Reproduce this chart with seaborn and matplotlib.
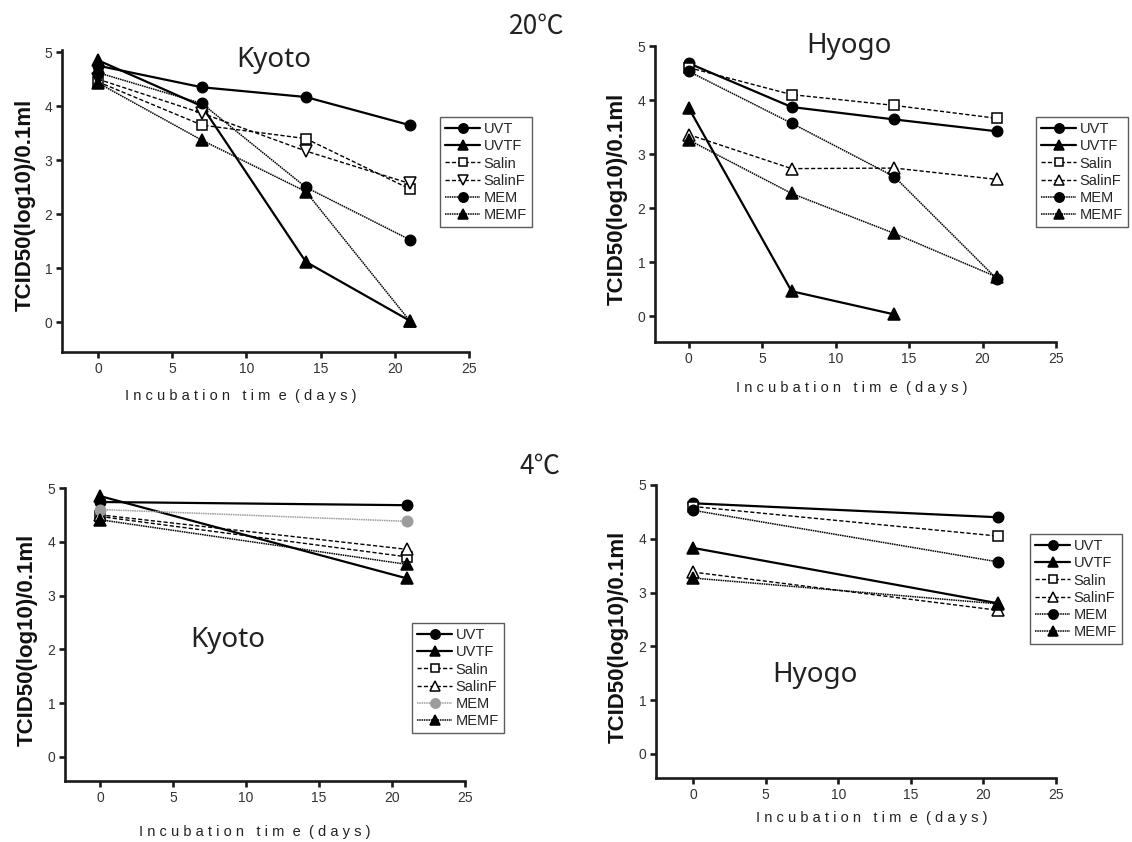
import matplotlib
matplotlib.use("Agg")
import matplotlib.pyplot as plt
import seaborn as sns
import pandas as pd

sns.set_style("ticks")
plt.rcParams["font.family"] = ["Liberation Sans", "DejaVu Sans"]

series = ["UVT", "UVTF", "Salin", "SalinF", "MEM", "MEMF"]

# ---- data: Kyoto 20C ----
k20_days = [0, 7, 14, 21]
k20_UVT = [4.75, 4.35, 4.17, 3.65]
k20_UVTF = [4.85, 4.00, 1.12, 0.03]
k20_Salin = [4.45, 3.65, 3.40, 2.47]
k20_SalinF = [4.50, 3.87, 3.17, 2.57]
k20_MEM = [4.62, 4.05, 2.50, 1.53]
k20_MEMF = [4.43, 3.37, 2.42, 0.03]

# ---- data: Hyogo 20C ----
h20_days = [0, 7, 14, 21]
h20_UVT = [4.68, 3.87, 3.64, 3.42]
h20_UVTF_days = [0, 7, 14]
h20_UVTF = [3.85, 0.46, 0.03]
h20_Salin = [4.60, 4.10, 3.90, 3.66]
h20_SalinF = [3.36, 2.73, 2.74, 2.53]
h20_MEM = [4.53, 3.57, 2.58, 0.68]
h20_MEMF = [3.26, 2.27, 1.53, 0.72]

# ---- data: Kyoto 4C ----
k4_days = [0, 21]
k4_UVT = [4.74, 4.68]
k4_UVTF = [4.85, 3.32]
k4_Salin = [4.47, 3.72]
k4_SalinF = [4.50, 3.86]
k4_MEM = [4.60, 4.38]
k4_MEMF = [4.41, 3.58]

# ---- data: Hyogo 4C ----
h4_days = [0, 21]
h4_UVT = [4.66, 4.40]
h4_UVTF = [3.83, 2.80]
h4_Salin = [4.60, 4.05]
h4_SalinF = [3.38, 2.67]
h4_MEM = [4.53, 3.57]
h4_MEMF = [3.27, 2.79]

x_ticks = [0, 5, 10, 15, 20, 25]
y_ticks = [0, 1, 2, 3, 4, 5]
ylabel_text = "TCID50(log10)/0.1ml"
xlabel_text = "I n c u b a t i o n   t i m  e  ( d a y s )"


def long_df(days_map, vals_map):
    rows = []
    for s in series:
        for d, v in zip(days_map[s], vals_map[s]):
            rows.append({"series": s, "day": d, "value": v})
    return pd.DataFrame(rows)


panels = [
    dict(name="Kyoto", df=long_df(
        {s: k20_days for s in series},
        dict(UVT=k20_UVT, UVTF=k20_UVTF, Salin=k20_Salin, SalinF=k20_SalinF, MEM=k20_MEM, MEMF=k20_MEMF)),
         rect=[62, 50, 469, 352], xlim=(-2.43, 25), ylim=(-0.55, 5.04),
         salinf_marker="v", mem_color="black",
         title_xy=(274, 60), leg_xy=(440, 117), ylab_xy=(25, 205), xlab_xy=(241, 396)),
    dict(name="Hyogo", df=long_df(
        dict(UVT=h20_days, UVTF=h20_UVTF_days, Salin=h20_days, SalinF=h20_days, MEM=h20_days, MEMF=h20_days),
        dict(UVT=h20_UVT, UVTF=h20_UVTF, Salin=h20_Salin, SalinF=h20_SalinF, MEM=h20_MEM, MEMF=h20_MEMF)),
         rect=[655, 46, 1056, 342], xlim=(-2.3, 25), ylim=(-0.48, 5.0),
         salinf_marker="^", mem_color="black",
         title_xy=(849, 46), leg_xy=(1036, 117), ylab_xy=(617, 199), xlab_xy=(852, 388)),
    dict(name="Kyoto", df=long_df(
        {s: k4_days for s in series},
        dict(UVT=k4_UVT, UVTF=k4_UVTF, Salin=k4_Salin, SalinF=k4_SalinF, MEM=k4_MEM, MEMF=k4_MEMF)),
         rect=[65, 488, 465, 781], xlim=(-2.4, 25), ylim=(-0.45, 5.0),
         salinf_marker="^", mem_color="#9c9c9c",
         title_xy=(228, 640), leg_xy=(412, 623), ylab_xy=(27, 640), xlab_xy=(255, 832)),
    dict(name="Hyogo", df=long_df(
        {s: h4_days for s in series},
        dict(UVT=h4_UVT, UVTF=h4_UVTF, Salin=h4_Salin, SalinF=h4_SalinF, MEM=h4_MEM, MEMF=h4_MEMF)),
         rect=[656, 485, 1056, 778], xlim=(-2.55, 25), ylim=(-0.45, 5.0),
         salinf_marker="^", mem_color="black",
         title_xy=(815, 675), leg_xy=(1030, 534), ylab_xy=(618, 637), xlab_xy=(872, 818)),
]

W, H = 1132, 842
fig = plt.figure(figsize=(W / 100, H / 100), dpi=100)
fig.patch.set_facecolor("white")


def fx(px):
    return px / W


def fy(py):
    return 1 - py / H


for p in panels:
    l, t, r, b = p["rect"]
    ax = fig.add_axes([fx(l), fy(b), (r - l) / W, (b - t) / H])
    ax.set_facecolor("white")
    styles = {
        "UVT": dict(color="black", marker="o", mfc="black", ls="-", lw=1.6),
        "UVTF": dict(color="black", marker="^", mfc="black", ls="-", lw=1.6),
        "Salin": dict(color="black", marker="s", mfc="white", ls=(0, (3, 1.6)), lw=1.0),
        "SalinF": dict(color="black", marker=p["salinf_marker"], mfc="white", ls=(0, (3, 1.6)), lw=1.0),
        "MEM": dict(color=p["mem_color"], marker="o", mfc=p["mem_color"], ls=(0, (1, 0.5)), lw=1.1),
        "MEMF": dict(color="black", marker="^", mfc="black", ls=(0, (1, 0.5)), lw=1.1),
    }
    df = p["df"]
    for s in series:
        st = styles[s]
        sub = df[df["series"] == s]
        if st["marker"] == "o":
            ms = 7.5
        elif st["marker"] == "s":
            ms = 7.0
        else:
            ms = 8.5
        sns.lineplot(data=sub, x="day", y="value", ax=ax, estimator=None, sort=False,
                     color=st["color"], marker=st["marker"], markersize=ms,
                     markerfacecolor=st["mfc"], markeredgecolor=st["color"],
                     markeredgewidth=1.1, linestyle=st["ls"], linewidth=st["lw"],
                     label=s)
    ax.set_xlim(*p["xlim"])
    ax.set_ylim(*p["ylim"])
    ax.set_xticks(x_ticks)
    ax.set_yticks(y_ticks)
    ax.set_xlabel("")
    ax.set_ylabel("")
    for side in ("top", "right"):
        ax.spines[side].set_visible(False)
    for side in ("left", "bottom"):
        ax.spines[side].set_linewidth(1.9)
        ax.spines[side].set_color("#1a1a1a")
    ax.tick_params(axis="both", direction="out", length=4, width=1.9, color="#1a1a1a",
                   labelsize=10, labelcolor="#333333", pad=3)
    leg = ax.legend(loc="upper left", bbox_to_anchor=(fx(p["leg_xy"][0]), fy(p["leg_xy"][1])),
                    bbox_transform=fig.transFigure, frameon=True, fancybox=False,
                    fontsize=10.5, handlelength=2.4, handletextpad=0.25,
                    labelspacing=0.22, borderpad=0.35, borderaxespad=0, markerscale=0.9)
    leg.get_frame().set_edgecolor("#333333")
    leg.get_frame().set_linewidth(1.0)
    fig.text(fx(p["title_xy"][0]), fy(p["title_xy"][1]), p["name"], ha="center", va="center",
             fontsize=20, family=["Noto Sans", "DejaVu Sans"], color="#222222")
    fig.text(fx(p["ylab_xy"][0]), fy(p["ylab_xy"][1]), ylabel_text, rotation=90,
             ha="center", va="center", fontsize=16, fontweight="bold", color="#111111")
    fig.text(fx(p["xlab_xy"][0]), fy(p["xlab_xy"][1]), xlabel_text, ha="center", va="center",
             fontsize=10.5, color="#222222")

fig.text(fx(537), fy(26), "20℃", ha="center", va="center", fontsize=19,
         family=["Noto Sans CJK JP", "DejaVu Sans"], color="#222222")
fig.text(fx(540), fy(466), "4℃", ha="center", va="center", fontsize=19,
         family=["Noto Sans CJK JP", "DejaVu Sans"], color="#222222")

fig.savefig("out.png", dpi=100, facecolor="white")
